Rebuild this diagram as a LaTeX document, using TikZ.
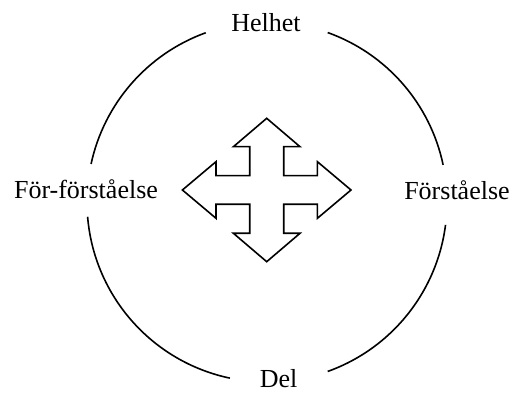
\documentclass[tikz,border=0pt]{standalone}
\usepackage{fontspec}
\setmainfont{Liberation Serif}
\usetikzlibrary{calc}
\begin{document}
\begin{tikzpicture}[x=1pt,y=1pt,
  lbl/.style={anchor=base,inner sep=0pt,font=\fontsize{26}{30}\selectfont},
  ring/.style={line width=1.6pt},
  cross/.style={line width=1.6pt,line join=miter,fill=white}]
\useasboundingbox (0,0) rectangle (512,394);
\coordinate (c) at (267,192);
\node[lbl] (helhet) at (266,362.5) {Helhet};
\node[lbl] (del) at (278.7,6) {Del};
\node[lbl] (forfor) at (86,195) {För-förståelse};
\node[lbl] (forst) at (457,194) {Förståelse};
\draw[ring] ($(c)+(11.9:180)$) arc[start angle=11.9,end angle=70.3,radius=180];
\draw[ring] ($(c)+(109.9:180)$) arc[start angle=109.9,end angle=167.8,radius=180];
\draw[ring] ($(c)+(184.7:180)$) arc[start angle=184.7,end angle=258.1,radius=180];
\draw[ring] ($(c)+(289.7:180)$) arc[start angle=289.7,end angle=352.7,radius=180];
\begin{scope}[shift={(266.7,204)}]
\draw[cross] (0,71.7) -- (33.3,43.3) -- (17,43.3) -- (17,14.3) -- (50.7,14.3) -- (50.7,28.3) -- (84.3,0) -- (50.7,-28.3) -- (50.7,-14.3) -- (17,-14.3) -- (17,-43.3) -- (33.3,-43.3) -- (0,-71.7) -- (-33.3,-43.3) -- (-17,-43.3) -- (-17,-14.3) -- (-50.7,-14.3) -- (-50.7,-28.3) -- (-84.3,0) -- (-50.7,28.3) -- (-50.7,14.3) -- (-17,14.3) -- (-17,43.3) -- (-33.3,43.3) -- cycle;
\end{scope}
\end{tikzpicture}
\end{document}
